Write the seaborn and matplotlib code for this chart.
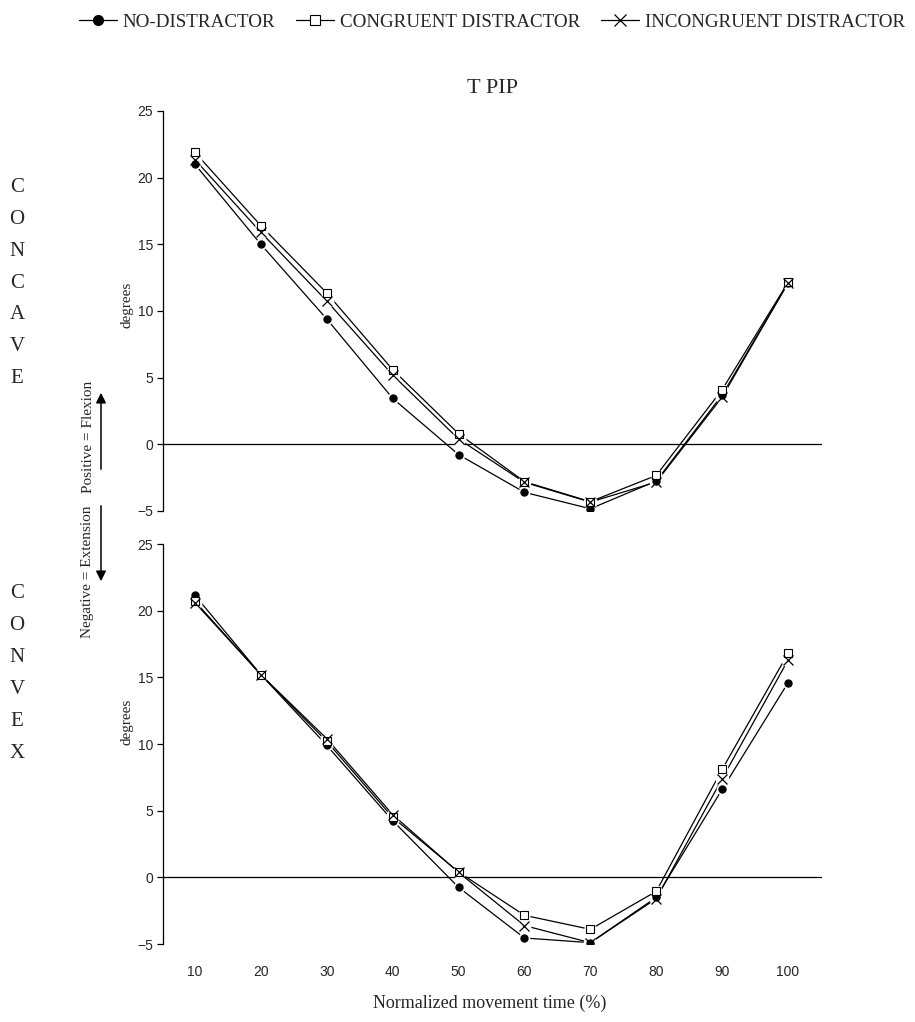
import numpy as np
import pandas as pd
import seaborn as sns
import matplotlib
matplotlib.use("Agg")
import matplotlib.pyplot as plt
from matplotlib.lines import Line2D

# Normalized movement time (%)
time_pct = [10, 20, 30, 40, 50, 60, 70, 80, 90, 100]

# T PIP joint angle (degrees), concave object
concave_no = [21.0, 15.0, 9.4, 3.45, -0.77, -3.6, -4.83, -2.75, 3.7, 12.1]
concave_cong = [21.9, 16.4, 11.35, 5.6, 0.8, -2.8, -4.3, -2.33, 4.1, 12.15]
concave_incong = [21.35, 15.9, 10.75, 5.2, 0.4, -2.85, -4.33, -2.83, 3.55, 12.1]

# T PIP joint angle (degrees), convex object
convex_no = [21.15, 15.2, 9.9, 4.25, -0.75, -4.55, -4.9, -1.5, 6.6, 14.6]
convex_cong = [20.7, 15.2, 10.2, 4.5, 0.4, -2.85, -3.9, -1.05, 8.1, 16.8]
convex_incong = [20.6, 15.2, 10.4, 4.7, 0.37, -3.62, -4.9, -1.6, 7.4, 16.3]

conditions = ["NO-DISTRACTOR", "CONGRUENT DISTRACTOR", "INCONGRUENT DISTRACTOR"]
y_ticks = [-5, 0, 5, 10, 15, 20, 25]

sns.set_theme(style="white")
plt.rcParams["font.family"] = ["Liberation Serif", "DejaVu Serif"]

# marker style per condition: (marker, face colour, size, edge width)
marker_style = {
    "NO-DISTRACTOR": ("o", "black", 5.2, 0.8),
    "CONGRUENT DISTRACTOR": ("s", "white", 5.6, 0.8),
    "INCONGRUENT DISTRACTOR": ("x", "black", 6.8, 0.9),
}

W, H = 915, 1022
fig = plt.figure(figsize=(W / 100, H / 100), dpi=100)
ax_top = fig.add_axes([163 / W, 1 - 511 / H, 659 / W, 400 / H])
ax_bot = fig.add_axes([163 / W, 1 - 944 / H, 659 / W, 400 / H])

panels = [
    (ax_top, [concave_no, concave_cong, concave_incong]),
    (ax_bot, [convex_no, convex_cong, convex_incong]),
]

for ax, series in panels:
    df = pd.DataFrame({
        "time": time_pct * 3,
        "angle": series[0] + series[1] + series[2],
        "condition": np.repeat(conditions, len(time_pct)),
    })
    ax.axhline(0, color="black", lw=0.9, zorder=1)
    sns.lineplot(data=df, x="time", y="angle", units="condition", estimator=None,
                 color="black", lw=0.9, ax=ax, zorder=2, legend=False)
    for cond in conditions:
        sub = df[df["condition"] == cond]
        m, fc, ms, mew = marker_style[cond]
        # white halo that breaks the lines around each symbol
        ax.plot(sub["time"], sub["angle"], ls="none", marker="o", ms=ms + 3.2,
                mfc="white", mec="none", zorder=3)
        ax.plot(sub["time"], sub["angle"], ls="none", marker=m, ms=ms,
                mfc=fc, mec="black", mew=mew, zorder=4)

    ax.set_xlim(5.15, 105.15)
    ax.set_ylim(-5, 25)
    ax.set_yticks(y_ticks)
    ax.set_xlabel("")
    ax.set_ylabel("")
    for s in ["top", "right", "bottom"]:
        ax.spines[s].set_visible(False)
    ax.spines["left"].set_color("black")
    ax.spines["left"].set_linewidth(0.9)
    ax.tick_params(axis="y", direction="out", length=4, width=0.9, color="black",
                   pad=3, labelsize=10, left=True)
    for lab in ax.get_yticklabels():
        lab.set_fontfamily("Liberation Sans")
    ax.set_xticks(time_pct)
    ax.grid(False)

ax_top.tick_params(axis="x", length=0, labelbottom=False)
ax_bot.tick_params(axis="x", length=0, pad=15, labelsize=10)
for lab in ax_bot.get_xticklabels():
    lab.set_fontfamily("Liberation Sans")

ax_top.set_title("T PIP", fontsize=16, pad=13)

fig.text(490 / W, 1 - 1003 / H, "Normalized movement time (%)", ha="center",
         va="center", fontsize=13)

# y-axis titles and direction cues
fig.text(127 / W, 1 - 305 / H, "degrees", rotation=90, ha="center", va="center",
         fontsize=11)
fig.text(127 / W, 1 - 722 / H, "degrees", rotation=90, ha="center", va="center",
         fontsize=11)
fig.text(88 / W, 1 - 437 / H, "Positive = Flexion", rotation=90, ha="center",
         va="center", fontsize=11)
fig.text(88 / W, 1 - 572 / H, "Negative = Extension", rotation=90, ha="center",
         va="center", fontsize=11)
fig.add_artist(matplotlib.patches.FancyArrowPatch(
    (101 / W, 1 - 472 / H), (101 / W, 1 - 390 / H), transform=fig.transFigure,
    arrowstyle="-|>,head_length=6,head_width=3", color="black", lw=1.1))
fig.add_artist(matplotlib.patches.FancyArrowPatch(
    (101 / W, 1 - 503 / H), (101 / W, 1 - 584 / H), transform=fig.transFigure,
    arrowstyle="-|>,head_length=6,head_width=3", color="black", lw=1.1))

# stacked panel names
for i, ch in enumerate("CONCAVE"):
    fig.text(17 / W, 1 - (188 + i * 31.7) / H, ch, ha="center", va="center",
             fontsize=15)
for i, ch in enumerate("CONVEX"):
    fig.text(17 / W, 1 - (593 + i * 32) / H, ch, ha="center", va="center",
             fontsize=15)

# legend across the top
handles = []
for cond in conditions:
    m, fc, ms, mew = marker_style[cond]
    handles.append(Line2D([], [], color="black", lw=0.9, marker=m, ms=ms + 2,
                          mfc=fc, mec="black", mew=mew))
fig.legend(handles, conditions, loc="center", bbox_to_anchor=(492 / W, 1 - 22 / H),
           ncol=3, frameon=False, fontsize=13.7, handlelength=2.0, handletextpad=0.3,
           columnspacing=1.1, borderaxespad=0, borderpad=0)

fig.savefig("out.png", dpi=100, facecolor="white")
